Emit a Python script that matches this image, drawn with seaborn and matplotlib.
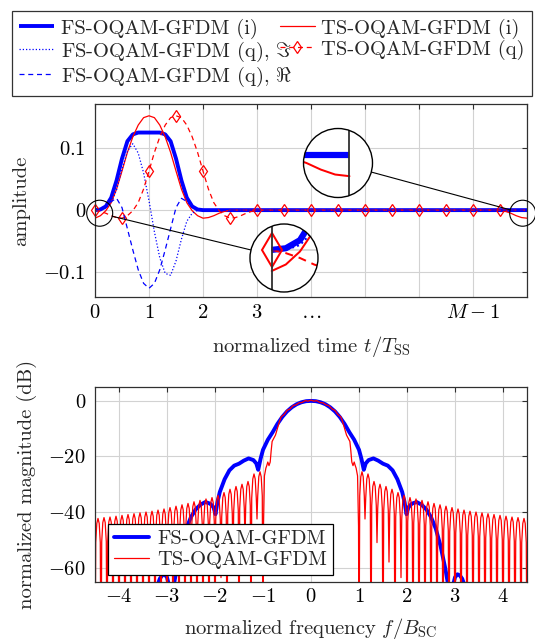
import numpy as np
import matplotlib
matplotlib.use("Agg")
import matplotlib.pyplot as plt
import seaborn as sns
from matplotlib.patches import Circle, Ellipse
from matplotlib.lines import Line2D

# ---------------- time-domain pulses (amplitude) ----------------
t_fs = [0.0, 0.1, 0.2, 0.3, 0.4, 0.5, 0.6, 0.7, 0.8, 0.9, 1.0,
        1.1, 1.2, 1.3, 1.4, 1.5, 1.6, 1.7, 1.8, 1.9, 2.0, 8.0]
fs_i = [0.000, 0.001, 0.006, 0.020, 0.048, 0.083, 0.111, 0.122, 0.125, 0.125, 0.125,
        0.125, 0.125, 0.122, 0.111, 0.083, 0.048, 0.020, 0.006, 0.001, 0.000, 0.000]
fs_q_im = [0.000, 0.000, 0.003, 0.012, 0.033, 0.066, 0.095, 0.107, 0.092, 0.060, 0.015,
           -0.035, -0.077, -0.102, -0.105, -0.082, -0.047, -0.018, -0.005, 0.000, 0.000, 0.000]
fs_q_re = [0.000, 0.001, 0.005, 0.014, 0.019, 0.004, -0.030, -0.064, -0.096, -0.118, -0.126,
           -0.118, -0.096, -0.064, -0.030, 0.004, 0.019, 0.014, 0.005, 0.001, 0.000, 0.000]

t_ts_i = [0.0, 0.1, 0.2, 0.3, 0.4, 0.5, 0.6, 0.7, 0.8, 0.9, 1.0, 1.1, 1.2, 1.3,
          1.4, 1.5, 1.6, 1.7, 1.8, 1.9, 2.0, 2.1, 2.2, 2.3, 2.4, 2.5,
          7.5, 7.6, 7.7, 7.8, 7.9, 8.0]
ts_i = [-0.013, -0.009, -0.001, 0.012, 0.034, 0.063, 0.093, 0.118, 0.137, 0.149, 0.152,
        0.149, 0.137, 0.118, 0.093, 0.063, 0.034, 0.012, -0.001, -0.009, -0.013,
        -0.012, -0.009, -0.005, -0.002, 0.000,
        0.000, -0.002, -0.005, -0.009, -0.012, -0.013]

t_ts_q = [0.0, 0.1, 0.2, 0.3, 0.4, 0.5, 0.6, 0.7, 0.8, 0.9, 1.0, 1.1, 1.2, 1.3, 1.4,
          1.5, 1.6, 1.7, 1.8, 1.9, 2.0, 2.1, 2.2, 2.3, 2.4, 2.5, 2.6, 2.7, 2.8, 2.9, 3.0,
          3.5, 4.0, 4.5, 5.0, 5.5, 6.0, 6.5, 7.0, 7.5, 8.0]
ts_q = [0.000, -0.002, -0.005, -0.009, -0.012, -0.013, -0.009, -0.001, 0.012, 0.034,
        0.063, 0.093, 0.118, 0.137, 0.149, 0.152, 0.149, 0.137, 0.118, 0.093, 0.063,
        0.034, 0.012, -0.001, -0.009, -0.013, -0.012, -0.009, -0.005, -0.002, 0.000,
        0.000, 0.000, 0.000, 0.000, 0.000, 0.000, 0.000, 0.000, 0.000, 0.000]

top_xticks = [0, 1, 2, 3, 4, 5, 6, 7, 8]
top_xticklabels = ["$0$", "$1$", "$2$", "$3$", r"$\ldots$", "", "", "$M-1$", ""]
top_yticks = [-0.1, 0.0, 0.1]
top_yticklabels = ["$-0.1$", "$0$", "$0.1$"]

# ---------------- spectra (dB), f >= 0 half (spectra are symmetric) ----------------
fs_f_pos = [0.0, 0.1, 0.2, 0.3, 0.4, 0.5, 0.6, 0.7, 0.8, 0.9, 0.95, 1.0, 1.05, 1.1, 1.14,
            1.2, 1.3, 1.4, 1.5, 1.6, 1.7, 1.8, 1.9, 1.95, 1.99, 2.03, 2.1, 2.2, 2.3, 2.4,
            2.5, 2.6, 2.7, 2.8, 2.85, 2.9, 2.95, 3.0, 3.05, 3.1, 3.15, 3.2, 3.25, 3.3, 4.5]
fs_db_pos = [0.0, -0.1, -0.5, -1.2, -2.3, -3.8, -5.8, -8.3, -11.3, -14.0, -15.8, -17.6,
             -20.8, -24.8, -22.5, -21.3, -20.7, -21.5, -22.6, -23.3, -25.0, -28.2, -32.8,
             -36.5, -40.8, -38.3, -37.0, -36.4, -37.3, -39.0, -41.8, -46.0, -52.3, -60.5,
             -65.5, -72.0, -67.0, -63.5, -62.4, -62.8, -64.0, -66.5, -72.0, -85.0, -85.0]

ts_main_f = [0.0, 0.06, 0.12, 0.19, 0.25, 0.31, 0.37, 0.44, 0.5, 0.56, 0.62, 0.66, 0.7,
             0.74, 0.78, 0.81, 0.83, 0.85, 0.875, 0.9, 0.92, 0.94, 0.97, 0.99]
ts_main_db = [0.3, -0.1, 0.1, -0.6, -0.7, -1.4, -1.7, -2.9, -3.4, -4.9, -5.7, -7.6, -10.0,
              -12.3, -13.6, -14.6, -18.0, -22.0, -23.3, -22.0, -23.2, -24.2, -27.0, -45.0]
# side lobes: width 1/8, lobes between k/8 and (k+1)/8 for k = 8..35
lobe_width = 0.125
lobe_first_k = 8
ts_peak_db = [-25.5, -26.3, -29.0, -30.0, -30.8, -31.8, -33.0, -34.0, -34.8, -35.3,
              -35.8, -36.3, -36.9, -37.4, -37.9, -38.4, -38.9, -39.3, -39.7, -40.0,
              -40.3, -40.6, -40.9, -41.2, -41.5, -41.8, -42.0, -42.3]
ts_partial_null_f = [1.125, 1.375, 1.625, 1.875]
ts_partial_null_db = [-42.5, -51.0, -58.0, -63.6]
ts_deep_null_db = -100.0
lobe_frac = [0.12, 0.3, 0.5, 0.7, 0.88]
lobe_drop_db = [-8.7, -1.8, 0.0, -1.8, -8.7]

bot_xticks = [-4, -3, -2, -1, 0, 1, 2, 3, 4]
bot_yticks = [-60, -40, -20, 0]

# ---------------- build spectra polylines ----------------
fs_f = np.concatenate([-np.array(fs_f_pos[:0:-1]), fs_f_pos])
fs_db = np.concatenate([np.array(fs_db_pos[:0:-1]), fs_db_pos])

rf, rd = list(ts_main_f), list(ts_main_db)
rf.append(lobe_first_k * lobe_width); rd.append(ts_deep_null_db)
for j, pk in enumerate(ts_peak_db):
    f0 = (lobe_first_k + j) * lobe_width
    for fr, dr in zip(lobe_frac, lobe_drop_db):
        rf.append(f0 + fr * lobe_width); rd.append(pk + dr)
    fn = f0 + lobe_width
    depth = ts_deep_null_db
    for pf, pdb in zip(ts_partial_null_f, ts_partial_null_db):
        if abs(pf - fn) < 1e-6:
            depth = pdb
    rf.append(fn); rd.append(depth)
rf, rd = np.array(rf), np.array(rd)
ts_f = np.concatenate([-rf[:0:-1], rf])
ts_db = np.concatenate([rd[:0:-1], rd])

# ---------------- style ----------------
sns.set_theme(style="white")
plt.rcParams["font.family"] = ["cmr10", "DejaVu Serif"]
plt.rcParams["mathtext.fontset"] = "cm"
plt.rcParams["axes.formatter.use_mathtext"] = True
FS = 14.8
BLUE, RED = "#0000ff", "#ff0000"
GRID, SPINE = "#d2d2d2", "#303030"

W, H = 535, 639
fig = plt.figure(figsize=(W / 100, H / 100), dpi=100)


def rect(l, t, r, b):
    return [l / W, 1 - b / H, (r - l) / W, (b - t) / H]


ax1 = fig.add_axes(rect(95, 104, 527, 297))
ax2 = fig.add_axes(rect(95, 387, 527, 581.5))

mark_idx = [i for i, t in enumerate(t_ts_q) if abs(t * 2 - round(t * 2)) < 1e-9 and t < 7.9]


def draw_top(ax, lws=1.0, mss=1.0):
    common = dict(ax=ax, estimator=None, sort=False)
    sns.lineplot(x=t_fs, y=fs_i, color=BLUE, lw=2.8 * lws, solid_capstyle="butt",
                 label="FS-OQAM-GFDM (i)", **common)
    sns.lineplot(x=t_ts_i, y=ts_i, color=RED, lw=0.9 * lws, label="TS-OQAM-GFDM (i)", **common)
    sns.lineplot(x=t_fs, y=fs_q_im, color=BLUE, lw=0.9 * lws, linestyle=(0, (1, 1.6)),
                 label=r"FS-OQAM-GFDM (q), $\Im$", **common)
    sns.lineplot(x=t_ts_q, y=ts_q, color=RED, lw=0.9 * lws, linestyle=(0, (4, 3)),
                 marker="d", markersize=6.5 * mss, markerfacecolor="none",
                 markeredgecolor=RED, markeredgewidth=0.9 * lws, markevery=mark_idx,
                 label="TS-OQAM-GFDM (q)", clip_on=False, **common)
    sns.lineplot(x=t_fs, y=fs_q_re, color=BLUE, lw=0.9 * lws, linestyle=(0, (4, 3)),
                 label=r"FS-OQAM-GFDM (q), $\Re$", **common)
    if ax.get_legend() is not None:
        ax.get_legend().remove()


def style_axes(ax):
    ax.grid(True, color=GRID, lw=0.8)
    ax.set_axisbelow(True)
    for s in ax.spines.values():
        s.set_visible(True)
        s.set_color(SPINE)
        s.set_linewidth(0.9)
    ax.tick_params(direction="in", length=3.5, width=0.8, color=SPINE, top=True, right=True,
                   labelsize=FS, labelcolor="black")
    ax.tick_params(axis="x", pad=5)
    ax.tick_params(axis="y", pad=6.5)


# ---- top plot ----
draw_top(ax1)
T0, T1, V0, V1 = 0, 8, -0.14, 0.171
ax1.set_xlim(T0, T1)
ax1.set_ylim(V0, V1)
ax1.set_xticks(top_xticks)
ax1.set_xticklabels(top_xticklabels)
ax1.set_yticks(top_yticks)
ax1.set_yticklabels(top_yticklabels)
style_axes(ax1)
ax1.set_xlabel(r"normalized time $t/T_{\mathrm{SS}}$", fontsize=FS)
ax1.set_ylabel("amplitude", fontsize=FS)
ax1.xaxis.set_label_coords(0.5, -0.19)
ax1.yaxis.set_label_coords(-0.15, 0.5)

top_lines = ax1.get_lines()
order = [0, 2, 4, 1, 3]
leg = fig.legend([top_lines[i] for i in order], [top_lines[i].get_label() for i in order],
                 loc="upper left", bbox_to_anchor=(12 / W, 1 - 97 / H, 520 / W, 86 / H),
                 mode="expand", ncol=2, frameon=True, fancybox=False, edgecolor="black",
                 fontsize=FS, handlelength=1.7, handletextpad=0.3, columnspacing=0.3,
                 borderpad=0.36, labelspacing=0.04, borderaxespad=0)
leg.get_frame().set_linewidth(0.9)

# ---- spy insets ----
px_t = 432 / (T1 - T0)
px_v = 193 / (V1 - V0)


def spy(tc, vc, big_x, big_y, R, r, spine_t):
    sx = 95 + (tc - T0) * px_t
    sy = 104 + (V1 - vc) * px_v
    fig.add_artist(Ellipse((sx / W, 1 - sy / H), 2 * r / W, 2 * r / H,
                           transform=fig.transFigure, fill=False, ec="black", lw=0.8))
    dx, dy = big_x - sx, big_y - sy
    d = np.hypot(dx, dy)
    ux, uy = dx / d, dy / d
    x1, y1 = sx + ux * r, sy + uy * r
    x2, y2 = big_x - ux * R, big_y - uy * R
    fig.add_artist(Line2D([x1 / W, x2 / W], [1 - y1 / H, 1 - y2 / H],
                          transform=fig.transFigure, color="black", lw=0.8))
    axi = fig.add_axes(rect(big_x - R, big_y - R, big_x + R, big_y + R), zorder=5)
    axi.axis("off")
    bg = Circle((0.5, 0.5), 0.5, transform=axi.transAxes, fc="white", ec="none", zorder=0)
    axi.add_patch(bg)
    draw_top(axi, lws=1.6, mss=2.6)
    axi.plot([T0, T1], [0, 0], color=GRID, lw=1.2, zorder=0.5)
    axi.plot([spine_t, spine_t], [-1, 1], color=SPINE, lw=1.3, zorder=3)
    axi.set_xlim(tc - r / px_t, tc + r / px_t)
    axi.set_ylim(vc - r / px_v, vc + r / px_v)
    clip = Circle((0.5, 0.5), 0.5, transform=axi.transAxes)
    for ln in axi.get_lines():
        ln.set_clip_path(clip)
        ln.set_clip_on(True)
    axi.add_patch(Circle((0.5, 0.5), 0.5, transform=axi.transAxes, fill=False,
                         ec="black", lw=1.0, zorder=10, clip_on=False))


spy(0.087, -0.005, 284, 258, 34, 13, 0.0)
spy(7.92, -0.005, 338, 163, 34.5, 13, 8.0)

# ---- bottom plot ----
sns.lineplot(x=fs_f, y=fs_db, ax=ax2, color=BLUE, lw=2.8, label="FS-OQAM-GFDM",
             estimator=None, sort=False)
sns.lineplot(x=ts_f, y=ts_db, ax=ax2, color=RED, lw=0.9, label="TS-OQAM-GFDM",
             estimator=None, sort=False)
if ax2.get_legend() is not None:
    ax2.get_legend().remove()
ax2.set_xlim(-4.5, 4.5)
ax2.set_ylim(-65, 5)
ax2.set_xticks(bot_xticks)
ax2.set_xticklabels([f"${v}$" for v in bot_xticks])
ax2.set_yticks(bot_yticks)
ax2.set_yticklabels([f"${v}$" for v in bot_yticks])
style_axes(ax2)
ax2.set_xlabel(r"normalized frequency $f/B_{\mathrm{SC}}$", fontsize=FS)
ax2.set_ylabel("normalized magnitude (dB)", fontsize=FS)
ax2.xaxis.set_label_coords(0.5, -0.175)
ax2.yaxis.set_label_coords(-0.135, 0.5)
bl = ax2.get_lines()
leg2 = ax2.legend(bl[:2], [l.get_label() for l in bl[:2]], loc="lower left",
                  bbox_to_anchor=(0.03, 0.033), borderaxespad=0, fancybox=False,
                  edgecolor="black", framealpha=1, fontsize=FS, handlelength=1.7,
                  handletextpad=0.4, borderpad=0.3, labelspacing=0.1)
leg2.get_frame().set_linewidth(0.9)

fig.savefig("out.png", dpi=100)
